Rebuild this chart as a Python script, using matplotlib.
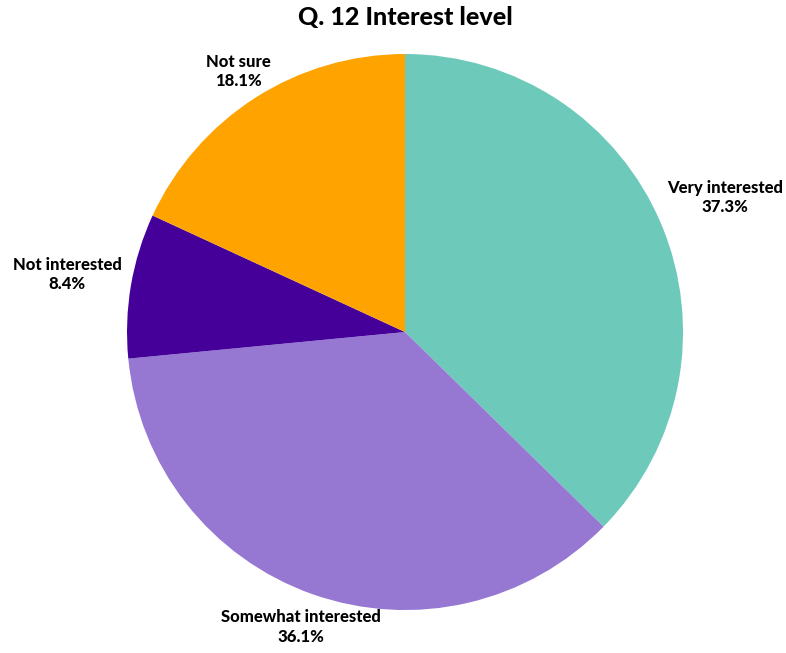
import matplotlib
matplotlib.use("Agg")
import matplotlib.pyplot as plt
import numpy as np

plt.rcParams['font.family'] = ['Lato', 'DejaVu Sans']

categories = ["Very interested", "Somewhat interested", "Not interested", "Not sure"]
shares = [37.3, 36.1, 8.4, 18.1]
colors = ["#6DCABA", "#9678D3", "#440099", "#FFA300"]
label_dist = [1.25, 1.125, 1.233, 1.111]

fig = plt.figure(figsize=(7.86, 6.53), dpi=100)
ax = fig.add_axes([0.1616, 0.0658, 0.7074, 0.8515])

wedges, _ = ax.pie(shares, colors=colors, startangle=90, counterclock=False,
                   radius=1.0, wedgeprops=dict(linewidth=0))
ax.set_xlim(-1, 1)
ax.set_ylim(-1, 1)
ax.set_aspect('equal')
ax.axis('off')

for w, name, val, d in zip(wedges, categories, shares, label_dist):
    mid = np.deg2rad((w.theta1 + w.theta2) / 2)
    x, y = d * np.cos(mid), d * np.sin(mid)
    ax.text(x, y, f"{name}\n{val:.1f}%", ha='center', va='center',
            fontsize=12, fontweight='black', linespacing=1.25, clip_on=False)

fig.text(405 / 786, 1 - 18 / 653, "Q. 12 Interest level", ha='center', va='center',
         fontsize=18, fontweight='black')

fig.savefig("out.png", dpi=100, facecolor='white')
